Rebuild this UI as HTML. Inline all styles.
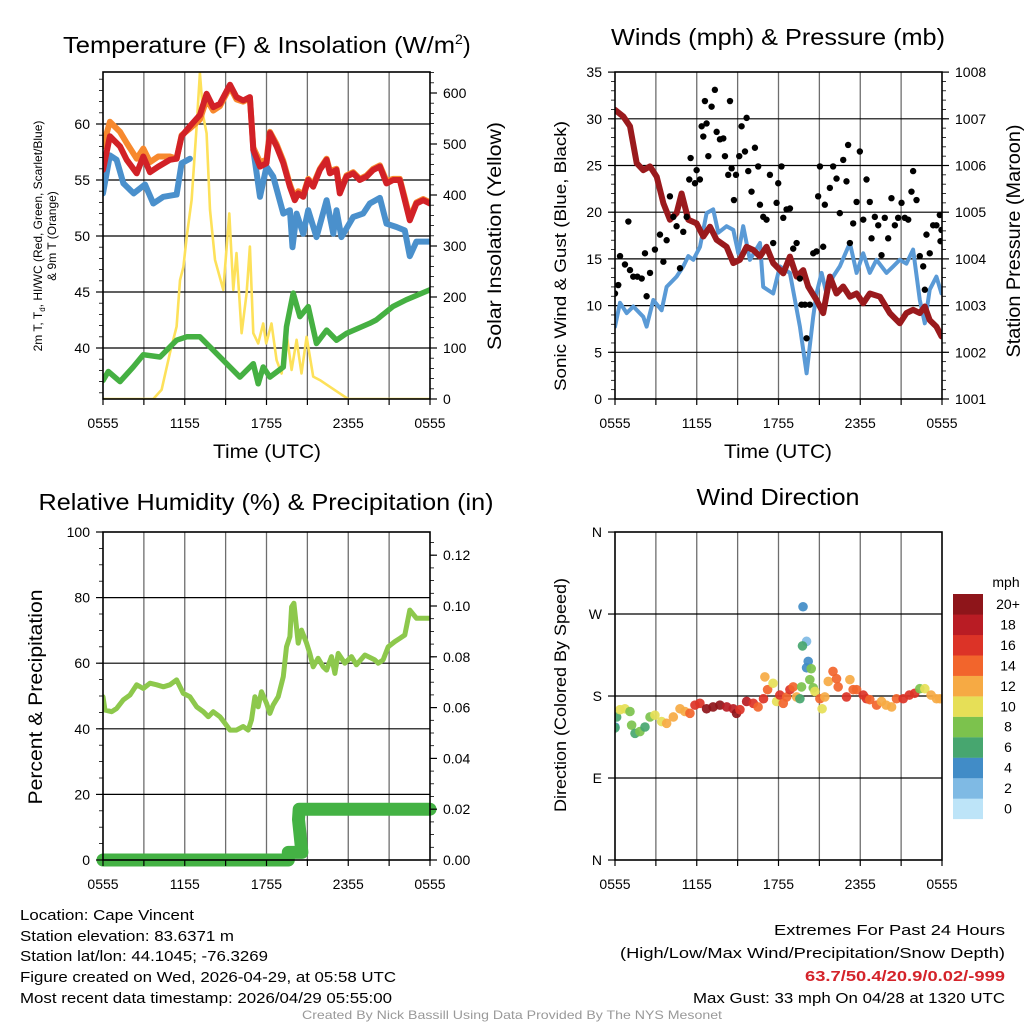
<!DOCTYPE html>
<html><head><meta charset="utf-8">
<style>
html,body{margin:0;padding:0;background:#fff;}
svg{display:block;font-family:"Liberation Sans",Arial,sans-serif;}
</style></head>
<body>
<svg id="fig" width="1024" height="1024" viewBox="0 0 1024 1024" xmlns="http://www.w3.org/2000/svg">
<defs>
<clipPath id="c1"><rect x="103" y="72" width="327" height="327"/></clipPath>
<clipPath id="c2"><rect x="615" y="72" width="327" height="327"/></clipPath>
<clipPath id="c3"><rect x="103" y="532" width="327" height="328"/></clipPath>
<clipPath id="c4"><rect x="615" y="532" width="327" height="328"/></clipPath>
</defs>
<g id="grids"></g>
<g id="series"></g>
<g id="axes"></g>
<!-- titles -->
<text x="63" y="53" font-size="23" textLength="392" lengthAdjust="spacingAndGlyphs">Temperature (F) &amp; Insolation (W/m</text>
<text x="455" y="44" font-size="14">2</text>
<text x="463" y="53" font-size="23">)</text>
<text x="778" y="45" font-size="23" text-anchor="middle" textLength="334" lengthAdjust="spacingAndGlyphs">Winds (mph) &amp; Pressure (mb)</text>
<text x="266" y="510" font-size="23" text-anchor="middle" textLength="455" lengthAdjust="spacingAndGlyphs">Relative Humidity (%) &amp; Precipitation (in)</text>
<text x="778" y="505" font-size="23" text-anchor="middle" textLength="163" lengthAdjust="spacingAndGlyphs">Wind Direction</text>
<!-- axis titles -->
<text x="267" y="458" font-size="19" text-anchor="middle" textLength="108" lengthAdjust="spacingAndGlyphs">Time (UTC)</text>
<text x="778" y="458" font-size="19" text-anchor="middle" textLength="108" lengthAdjust="spacingAndGlyphs">Time (UTC)</text>
<text transform="translate(42,236) rotate(-90)" font-size="12" text-anchor="middle">2m T, T<tspan font-size="8" dy="3">d</tspan><tspan dy="-3">, HI/WC (Red, Green, Scarlet/Blue)</tspan></text>
<text transform="translate(56,236) rotate(-90)" font-size="12" text-anchor="middle">&amp; 9m T (Orange)</text>
<text transform="translate(501,236) rotate(-90)" font-size="19" text-anchor="middle" textLength="228" lengthAdjust="spacingAndGlyphs">Solar Insolation (Yellow)</text>
<text transform="translate(566,256) rotate(-90)" font-size="17" text-anchor="middle" textLength="270" lengthAdjust="spacingAndGlyphs">Sonic Wind &amp; Gust (Blue, Black)</text>
<text transform="translate(1020,241) rotate(-90)" font-size="19" text-anchor="middle" textLength="233" lengthAdjust="spacingAndGlyphs">Station Pressure (Maroon)</text>
<text transform="translate(42,697) rotate(-90)" font-size="19" text-anchor="middle" textLength="215" lengthAdjust="spacingAndGlyphs">Percent &amp; Precipitation</text>
<text transform="translate(566,695) rotate(-90)" font-size="17" text-anchor="middle" textLength="234" lengthAdjust="spacingAndGlyphs">Direction (Colored By Speed)</text>
<!-- legend -->
<g id="legend">
<text x="1006" y="587" font-size="14" text-anchor="middle">mph</text>
</g>
<!-- footer text -->
<g font-size="14.5">
<text x="20" y="920" textLength="174" lengthAdjust="spacingAndGlyphs">Location: Cape Vincent</text>
<text x="20" y="941" textLength="214" lengthAdjust="spacingAndGlyphs">Station elevation: 83.6371 m</text>
<text x="20" y="961" textLength="248" lengthAdjust="spacingAndGlyphs">Station lat/lon: 44.1045; -76.3269</text>
<text x="20" y="982" textLength="376" lengthAdjust="spacingAndGlyphs">Figure created on Wed, 2026-04-29, at 05:58 UTC</text>
<text x="20" y="1003" textLength="372" lengthAdjust="spacingAndGlyphs">Most recent data timestamp: 2026/04/29 05:55:00</text>
</g>
<g font-size="15" text-anchor="end">
<text x="1005" y="935" textLength="231" lengthAdjust="spacingAndGlyphs">Extremes For Past 24 Hours</text>
<text x="1005" y="958" textLength="385" lengthAdjust="spacingAndGlyphs">(High/Low/Max Wind/Precipitation/Snow Depth)</text>
<text x="1005" y="981" fill="#d4232a" font-weight="bold" textLength="200" lengthAdjust="spacingAndGlyphs">63.7/50.4/20.9/0.02/-999</text>
<text x="1005" y="1003" textLength="312" lengthAdjust="spacingAndGlyphs">Max Gust: 33 mph On 04/28 at 1320 UTC</text>
</g>
<text x="512" y="1019" font-size="12" fill="#999" text-anchor="middle" textLength="420" lengthAdjust="spacingAndGlyphs">Created By Nick Bassill Using Data Provided By The NYS Mesonet</text>
</svg>
<script>
// ---------- data (hours since 0555 UTC) ----------
const xTickLabels = ["0555","1155","1755","2355","0555"];
const xTickHours = [0,6,12,18,24];
const tempTicks = [40,45,50,55,60];
const solarTicks = [0,100,200,300,400,500,600];
const windTicks = [0,5,10,15,20,25,30,35];
const presTicks = [1001,1002,1003,1004,1005,1006,1007,1008];
const rhTicks = [0,20,40,60,80,100];
const precipTicks = [0,0.02,0.04,0.06,0.08,0.10,0.12];
const precipTickLabels = ["0.00","0.02","0.04","0.06","0.08","0.10","0.12"];
const dirTicks = [0,90,180,270,360];
const dirTickLabels = ["N","E","S","W","N"];

const tempHours = [0,0.51,1.25,1.74,2.47,2.96,3.45,4.06,4.91,5.4,5.77,6.38,7.11,7.6,8.09,8.58,9.32,9.8,10.29,10.78,11.03,11.52,12,12.25,12.74,13.23,13.72,14.08,14.33,14.69,15.06,15.43,15.92,16.41,16.65,17.14,17.38,17.87,18.36,18.85,19.34,19.83,20.32,20.81,21.3,21.78,22.15,22.52,23,23.5,24];
const temp2m = [55.9,58.9,58.0,56.8,55.6,57.1,55.7,56.2,56.8,56.9,58.9,59.8,60.8,62.7,61.5,61.8,63.5,62.4,62.1,62.4,57.7,56.2,56.5,59.2,58.0,56.5,54.4,53.2,53.8,53.5,55.0,54.4,55.9,56.8,55.6,55.9,53.8,55.3,55.6,55.0,55.3,55.9,56.2,54.7,55.0,55.0,53.2,51.4,52.9,53.2,52.9];
const temp9m = [58.0,60.2,59.3,58.3,56.9,57.8,56.6,57.1,57.1,56.9,59.0,59.6,60.4,62.2,61.2,61.6,63.3,62.2,62.0,62.3,57.9,56.6,56.8,59.3,58.2,56.7,54.6,53.4,54.0,53.7,55.1,54.6,56.0,56.9,55.8,56.0,54.0,55.4,55.7,55.1,55.4,56.0,56.3,54.9,55.1,55.1,53.4,51.6,53.0,53.3,53.0];
const wcHours = [0,0.51,1.0,1.5,2.25,3.08,3.69,4.43,5.4,5.77,6.38,11.03,11.52,12,12.49,13.23,13.72,13.91,14.21,14.69,15.06,15.67,16.41,16.9,17.14,17.5,18.36,19.09,19.58,20.32,20.81,21.54,22.15,22.52,23,24];
const windChill = [53.8,57.2,56.8,54.7,53.8,54.6,52.9,53.5,53.7,56.5,56.9,57.7,53.5,56.2,55.3,52.0,52.3,49.0,52.0,50.2,52.3,49.9,53.2,50.2,52.3,49.9,51.7,52.0,52.9,53.4,51.1,50.8,50.5,48.2,49.5,49.5];
const wcGapAfter = 6.38;
const dewHours = [0,0.39,1.25,2.22,2.96,4.18,5.4,6.14,7.11,7.85,8.83,10.05,11.03,11.39,11.76,12.25,13.23,13.47,13.96,14.45,15.06,15.67,16.41,17.14,17.87,19.56,20.05,21.27,22.25,24];
const dewpoint = [37.1,37.9,37.0,38.3,39.4,39.2,40.7,41.0,41.0,40.1,38.9,37.4,38.6,36.8,38.3,37.4,38.3,41.9,44.9,42.8,43.7,40.4,41.6,40.7,41.3,42.2,42.5,43.7,44.3,45.2];
const solarHours = [0,3.69,4.3,4.91,5.4,5.65,5.9,6.14,6.5,6.87,7.11,7.36,7.6,7.85,8.22,8.83,9.27,9.56,9.8,10.17,10.54,10.78,11.03,11.39,11.76,11.98,12.37,12.74,13.11,13.47,13.84,14.21,14.57,14.94,15.43,15.92,16.65,17.38,17.99,24];
const solar = [0,0,18,90,142,233,259,318,390,534,639,554,521,371,273,214,364,214,286,129,207,299,129,109,148,109,148,76,50,129,57,116,50,122,44,37,24,11,0,0];

const windHours = [0,0.37,0.86,1.34,2.08,2.32,2.81,3.42,3.79,4.52,5.01,5.38,5.75,6.24,6.72,7.21,7.58,8.19,8.68,9.05,9.41,9.9,10.64,10.88,11.61,12.1,12.84,13.57,14.06,14.55,14.79,15.16,15.52,16.01,16.5,17.24,17.73,18.22,18.7,19.19,19.93,20.42,20.9,21.39,21.88,22.37,22.74,23.1,23.59,23.96];
const windSpeed = [7.75,10.3,9.2,9.9,8.8,7.75,10.6,9.5,12,13.1,14.2,15.3,14.9,16.3,19.9,20.3,17.8,18.5,18.1,15.6,18.5,14.9,16.7,12,11.3,14.2,13.5,7.75,2.75,8.8,11.3,13.5,11.3,13.1,14.2,16.7,13.5,15.6,13.5,14.9,13.5,14.2,14.9,14.5,16,10.6,8.1,11.7,13.1,11.3];
const presHours = [0,0.61,1.1,1.59,2.08,2.57,3.06,3.55,4.03,4.52,4.89,5.38,5.99,6.48,6.97,7.46,8.19,8.68,9.17,9.66,10.15,10.64,11.12,11.61,12.35,12.84,13.33,13.81,14.18,14.79,15.28,15.77,16.26,16.75,17.24,17.73,18.22,18.7,19.44,20.17,20.9,21.39,21.88,22.37,22.74,23.1,23.59,23.96];
const pressure = [1007.19,1007.05,1006.84,1006.05,1005.9,1005.98,1005.76,1005.19,1004.84,1004.98,1005.4,1004.84,1004.76,1004.48,1004.69,1004.41,1004.26,1003.91,1003.98,1004.26,1004.19,1004.05,1004.26,1003.91,1003.69,1004.05,1003.62,1003.76,1003.41,1003.12,1002.84,1003.62,1003.26,1003.41,1003.19,1003.26,1003.05,1003.26,1003.19,1002.84,1002.62,1002.84,1002.91,1002.84,1002.98,1002.69,1002.55,1002.34];
const gustHours = [0.0,0.24,0.37,0.73,0.98,1.10,1.34,1.64,1.96,2.20,2.32,2.57,2.93,3.30,3.55,3.79,4.03,4.28,4.52,4.77,5.01,5.26,5.45,5.55,5.87,5.99,6.23,6.36,6.48,6.60,6.72,6.85,7.09,7.33,7.46,7.70,7.95,8.07,8.31,8.44,8.56,8.73,8.88,9.12,9.29,9.54,9.66,9.78,10.02,10.27,10.51,10.64,10.88,11.12,11.37,11.61,11.86,11.98,12.22,12.35,12.59,12.84,13.08,13.33,13.57,13.69,13.94,14.06,14.30,14.55,14.79,14.91,15.04,15.28,15.40,15.77,16.01,16.26,16.50,16.75,16.99,17.11,17.24,17.48,17.73,17.97,18.22,18.46,18.70,18.83,19.07,19.32,19.56,19.80,20.05,20.29,20.54,20.78,21.03,21.27,21.52,21.76,21.88,22.13,22.37,22.62,22.74,22.86,23.10,23.35,23.59,23.84,23.96,23.89];
const gustSpeed = [11.3,12.2,15.3,14.4,19.0,13.8,13.1,13.1,12.9,15.6,11.0,13.5,16.0,17.6,14.7,17.0,21.7,19.5,18.5,14.0,17.9,19.5,23.5,25.8,23.1,24.5,23.5,29.2,28.1,31.9,29.5,26.0,31.3,33.1,28.6,27.8,27.9,26.0,24.0,31.9,24.7,21.3,24.0,26.0,29.2,26.5,30.1,24.4,22.2,26.9,24.9,20.8,19.5,19.2,24.0,16.7,21.0,23.1,24.9,19.4,20.3,20.4,16.1,16.7,12.9,10.1,10.1,6.5,10.1,15.6,15.8,21.7,24.9,16.3,20.8,22.6,24.9,23.6,19.9,25.6,23.3,27.2,16.7,18.8,21.1,26.5,19.2,23.5,21.1,17.2,19.5,18.6,15.4,19.4,17.2,21.5,18.6,19.4,21.0,19.4,19.2,22.2,24.4,21.3,15.3,14.2,11.7,17.6,15.6,18.6,18.6,19.7,18.1,16.9];

const rhHours = [0,0.15,0.64,1.0,1.49,1.98,2.47,2.96,3.45,3.94,4.43,4.91,5.4,5.89,6.38,6.87,7.36,7.73,8.09,8.58,8.95,9.32,9.8,10.29,10.66,10.9,11.15,11.39,11.63,12.0,12.25,12.49,12.86,13.23,13.47,13.72,13.84,14.01,14.33,14.57,14.94,15.18,15.43,15.79,16.16,16.41,16.77,17.02,17.26,17.75,18.24,18.6,19.22,19.95,20.2,20.56,20.93,21.42,21.79,22.15,22.52,23.01,23.98];
const rh = [49.8,45.7,45.2,46.2,48.8,50.3,53.4,52.3,53.9,53.4,52.8,53.4,54.9,50.8,49.8,46.7,45.2,43.7,45.2,43.7,41.7,39.6,39.6,40.7,39.6,42.7,49.8,46.7,51.3,47.8,44.7,47.3,49.8,55.9,65.0,68.1,77.2,78.3,66.1,70.1,66.1,63.0,58.9,61.5,58.9,57.9,62.0,56.9,63.0,60.0,62.0,59.5,62.5,61.0,60.0,61.0,65.0,66.6,67.6,68.6,76.2,73.7,73.7];
const precipHours = [0,13.6,13.6,14.6,14.35,14.4,24];
const precip = [0,0,0.003,0.003,0.016,0.02,0.02];

const dirHours = [0,0,0.12,0.37,0.73,1.1,1.22,1.47,1.83,2.2,2.57,2.93,3.42,3.79,4.28,4.77,5.13,5.5,5.87,6.23,6.72,7.2,7.7,8.2,8.68,8.92,9.17,9.66,10.15,10.5,10.9,11.0,11.2,11.6,11.86,12.1,12.35,12.6,12.84,13.08,13.33,13.69,13.57,13.8,14.06,13.76,14.18,14.06,14.4,14.3,14.55,14.67,15.04,15.2,15.4,15.65,16.0,16.26,16.38,16.99,17.24,17.48,17.73,18.22,18.46,18.7,19.2,19.56,19.9,20.3,20.66,21.15,21.6,22.0,22.37,22.74,23.2,23.6,23.84];
const dirDeg = [146,145,157,165,166,163,148,139,141,146,157,159,152,150,157,166,163,161,170,172,166,168,170,168,166,161,165,174,172,168,177,201,187,194,174,181,172,179,187,190,179,190,177,278,240,235,218,211,210,198,189,185,177,166,179,196,207,199,190,179,198,187,187,181,177,176,170,174,170,168,177,177,181,183,188,188,181,177,177];
const dirSpeed = [5,7,7,10,10,9,8,7,8,7,8,10,11,12,12,12,13,15,16,17,20,20,20,19,18,20,17,18,17,15,17,12,15,11,10,16,14,15,17,14,13,9,6,4,3,6,4,4,8,8,8,10,15,10,12,12,15,15,15,16,12,15,15,17,16,14,15,13,12,12,15,16,16,17,9,10,12,12,12];
const speedLabels = ["0","2","4","6","8","10","12","14","16","18","20+"];
const speedColors = ["#bde4f8","#7fbae4","#418cc7","#47a66f","#7cc24d","#e6df57","#f6aa44","#f2652c","#dc3327","#b91c24","#8e151a"];

// ---------- helpers ----------
const NS = "http://www.w3.org/2000/svg";
function mk(tag, attrs, parent){
  const e = document.createElementNS(NS, tag);
  for (const k in attrs) e.setAttribute(k, attrs[k]);
  parent.appendChild(e);
  return e;
}
const P1 = {x0:103,x1:430,y0:72,y1:399,clip:"c1"};
const P2 = {x0:615,x1:942,y0:72,y1:399,clip:"c2"};
const P3 = {x0:103,x1:430,y0:532,y1:860,clip:"c3"};
const P4 = {x0:615,x1:942,y0:532,y1:860,clip:"c4"};
function xs(p,h){ return p.x0 + h*(p.x1-p.x0)/24; }
const yTemp = v => 348 - (v-40)*11.2;
const ySolar = v => 399 - v*0.51;
const yWind = v => 399 - v*9.34;
const yPres = v => 399 - (v-1001)*46.7;
const yRH = v => 860 - v*3.28;
const yPrecip = v => 860 - v*2540;
const yDir = v => 860 - v*0.911;

const grids = document.getElementById("grids");
const series = document.getElementById("series");
const axes = document.getElementById("axes");

function panelFrame(p, name, hVals, yfn){
  const g = mk("g", {}, grids);
  
  
  for (let h=3; h<24; h+=3){
    const x = xs(p,h);
    const l = mk("line",{x1:x,x2:x,y1:p.y0,y2:p.y1,stroke:"#6e6e6e","stroke-width":1.3},g);
    
    
  }
  hVals.forEach(v=>{
    const y = yfn(v);
    if (y<=p.y0+1 || y>=p.y1-1) return;
    const l = mk("line",{x1:p.x0,x2:p.x1,y1:y,y2:y,stroke:"#000","stroke-width":1.2},g);
    
    
  });
  const f = mk("rect",{x:p.x0,y:p.y0,width:p.x1-p.x0,height:p.y1-p.y0,fill:"none",stroke:"#000","stroke-width":1.6},axes);
  
  
  const xg = mk("g",{"font-size":14,"text-anchor":"middle"},axes);
  
  
  for (let h=0; h<=24; h+=3){
    const x = xs(p,h);
    mk("line",{x1:x,x2:x,y1:p.y1,y2:p.y1+6,stroke:"#000","stroke-width":1.2},xg);
  }
  xTickHours.forEach((h,i)=>{
    const t = mk("text",{x:xs(p,h),y:p.y1+29},xg);
    t.textContent = xTickLabels[i];
    
    
  });
}
function yAxis(p, name, ticks, labels, yfn, side, minorStep){
  const g = mk("g",{"font-size":14,"text-anchor":side==="left"?"end":"start"},axes);
  
  
  const x = side==="left"?p.x0:p.x1;
  const d = side==="left"?-1:1;
  ticks.forEach((v,i)=>{
    const y = yfn(v);
    mk("line",{x1:x,x2:x+d*7,y1:y,y2:y,stroke:"#000","stroke-width":1.2},g);
    const t = mk("text",{x:x+d*13,y:y+5},g);
    t.textContent = labels[i];
    
    
  });
  if (minorStep){
    for (let v=ticks[0]-minorStep*10; v<=ticks[ticks.length-1]+minorStep*10; v+=minorStep){
      const y=yfn(v);
      if (y<p.y0||y>p.y1) continue;
      mk("line",{x1:x,x2:x+d*4,y1:y,y2:y,stroke:"#000","stroke-width":0.8},g);
    }
  }
}
function line(p, name, hs, vs, yfn, color, width, gapAfter){
  let d = "", started=false;
  for (let i=0;i<hs.length;i++){
    const x = xs(p,hs[i]), y = yfn(vs[i]);
    const brk = gapAfter!==undefined && i>0 && hs[i-1]<=gapAfter && hs[i]>gapAfter;
    d += ((!started||brk)?"M":"L") + x.toFixed(1)+","+y.toFixed(1)+" ";
    started = true;
  }
  const e = mk("path",{d:d,fill:"none",stroke:color,"stroke-width":width,"stroke-linejoin":"round","stroke-linecap":"round","clip-path":"url(#"+p.clip+")"},series);
  
  
  return e;
}

panelFrame(P1,"temperature",tempTicks,yTemp);
panelFrame(P2,"winds",windTicks,yWind);
panelFrame(P3,"humidity",rhTicks,yRH);
panelFrame(P4,"wind-direction",dirTicks,yDir);

yAxis(P1,"temperature-y-axis",tempTicks,tempTicks.map(String),yTemp,"left",1);
yAxis(P1,"solar-y-axis",solarTicks,solarTicks.map(String),ySolar,"right",20);
yAxis(P2,"wind-y-axis",windTicks,windTicks.map(String),yWind,"left",1);
yAxis(P2,"pressure-y-axis",presTicks,presTicks.map(String),yPres,"right",0.2);
yAxis(P3,"humidity-y-axis",rhTicks,rhTicks.map(String),yRH,"left",5);
yAxis(P3,"precip-y-axis",precipTicks,precipTickLabels,yPrecip,"right",0.005);
yAxis(P4,"direction-y-axis",dirTicks,dirTickLabels,yDir,"left",0);

line(P1,"solar-insolation-line",solarHours,solar,ySolar,"#fde15a",2.6);
line(P1,"dewpoint-line",dewHours,dewpoint,yTemp,"#45b042",5.5);
line(P1,"temp-9m-line",tempHours,temp9m,yTemp,"#f7892e",6);
line(P1,"wind-chill-line",wcHours,windChill,yTemp,"#4a90cc",6,wcGapAfter);
line(P1,"temp-2m-line",tempHours,temp2m,yTemp,"#d22127",6);

line(P2,"wind-speed-line",windHours,windSpeed,yWind,"#5a9ad6",4);
line(P2,"pressure-line",presHours,pressure,yPres,"#9a1a1d",6);
const gg = mk("g",{"clip-path":"url(#c2)"},series);


gustHours.forEach((h,i)=>{
  const c = mk("circle",{cx:xs(P2,h),cy:yWind(gustSpeed[i]),r:3.2,fill:"#000"},gg);
  
  
});

line(P3,"relative-humidity-line",rhHours,rh,yRH,"#8dc84c",5);
const pl = line(P3,"precipitation-line",precipHours,precip,yPrecip,"#44b244",13);
pl.removeAttribute("clip-path");

const dg = mk("g",{"clip-path":"url(#c4)"},series);


dirHours.forEach((h,i)=>{
  const idx = Math.min(10, Math.floor(dirSpeed[i]/2));
  const c = mk("circle",{cx:xs(P4,h),cy:yDir(dirDeg[i]),r:4.8,fill:speedColors[idx],"fill-opacity":0.92},dg);
  
  
});

const lg = document.getElementById("legend");
for (let i=0;i<11;i++){
  const y = 594 + (10-i)*20.45;
  const r = mk("rect",{x:953,y:y,width:30,height:20.6,fill:speedColors[i]},lg);
  
  
  const t = mk("text",{x:1008,y:y+15,"font-size":14,"text-anchor":"middle"},lg);
  t.textContent = speedLabels[i];
  
  
}
</script>
</body></html>
